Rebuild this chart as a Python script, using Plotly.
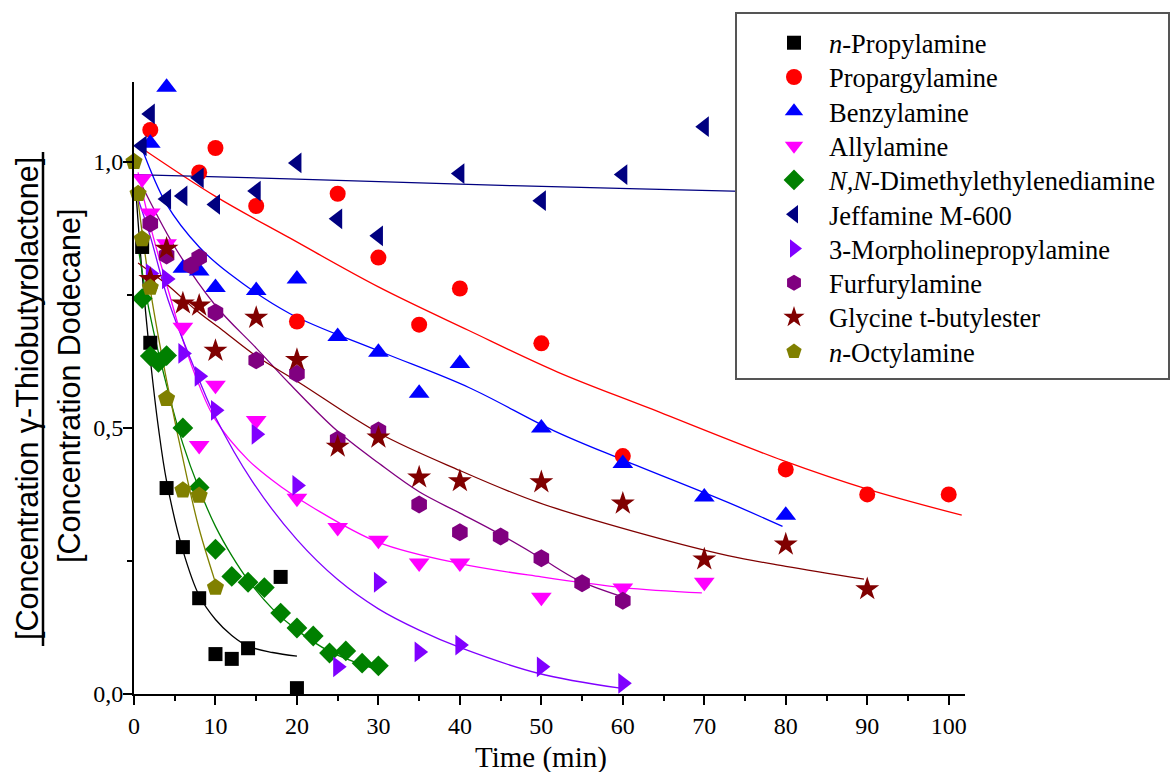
import plotly.graph_objects as go

# ---------------- data ----------------
names = ["<i>n</i>-Propylamine", "Propargylamine", "Benzylamine", "Allylamine",
         "<i>N,N</i>-Dimethylethylenediamine", "Jeffamine M-600",
         "3-Morpholinepropylamine", "Furfurylamine", "Glycine t-butylester",
         "<i>n</i>-Octylamine"]

prop_t = [1, 2, 4, 6, 8, 10, 12, 14, 18, 20]
prop_y = [0.84, 0.66, 0.387, 0.276, 0.18, 0.075, 0.066, 0.086, 0.22, 0.011]

parg_t = [2, 8, 10, 15, 20, 25, 30, 35, 40, 50, 60, 80, 90, 100]
parg_y = [1.06, 0.98, 1.026, 0.917, 0.70, 0.94, 0.82, 0.694, 0.762, 0.659, 0.447, 0.422, 0.375, 0.375]

benz_t = [2, 4, 6, 8, 10, 15, 20, 25, 30, 35, 40, 50, 60, 70, 80]
benz_y = [1.035, 1.14, 0.80, 0.795, 0.764, 0.758, 0.78, 0.672, 0.642, 0.565, 0.621, 0.50, 0.433, 0.37, 0.336]

ally_t = [1, 2, 4, 6, 8, 10, 15, 20, 25, 30, 35, 40, 50, 60, 70]
ally_y = [0.968, 0.904, 0.846, 0.689, 0.467, 0.58, 0.514, 0.368, 0.313, 0.289, 0.246, 0.246, 0.182, 0.199, 0.21]

dmed_t = [1, 2, 3, 4, 6, 8, 10, 12, 14, 16, 18, 20, 22, 24, 26, 28, 30]
dmed_y = [0.743, 0.635, 0.623, 0.636, 0.50, 0.388, 0.272, 0.221, 0.21, 0.20, 0.152, 0.124, 0.109, 0.077, 0.081, 0.058, 0.053]

jeff_t = [1, 2, 4, 6, 8, 10, 15, 20, 25, 30, 40, 50, 60, 70]
jeff_y = [1.03, 1.09, 0.93, 0.936, 0.97, 0.92, 0.945, 0.998, 0.893, 0.861, 0.978, 0.927, 0.976, 1.066]

morp_t = [2, 4, 6, 8, 10, 15, 20, 25, 30, 35, 40, 50, 60]
morp_y = [0.79, 0.78, 0.64, 0.597, 0.533, 0.488, 0.392, 0.051, 0.21, 0.079, 0.092, 0.051, 0.02]

furf_t = [2, 4, 7, 8, 10, 15, 20, 25, 30, 35, 40, 45, 50, 55, 60]
furf_y = [0.884, 0.824, 0.805, 0.82, 0.717, 0.627, 0.602, 0.478, 0.495, 0.356, 0.304, 0.296, 0.255, 0.208, 0.175]

glyc_t = [2, 4, 6, 8, 10, 15, 20, 25, 30, 35, 40, 50, 60, 70, 80, 90]
glyc_y = [0.78, 0.837, 0.734, 0.73, 0.645, 0.707, 0.628, 0.465, 0.482, 0.407, 0.40, 0.398, 0.358, 0.253, 0.281, 0.197]

octy_t = [0, 0.5, 1, 2, 4, 6, 8, 10]
octy_y = [1.0, 0.94, 0.855, 0.764, 0.555, 0.383, 0.373, 0.20]

# fitted curves
fit_prop_t = [0.3, 1, 2, 3, 4, 6, 8, 10, 12, 14, 17, 20]
fit_prop_y = [0.93, 0.79, 0.63, 0.50, 0.40, 0.27, 0.185, 0.14, 0.11, 0.09, 0.078, 0.071]
fit_parg_t = [1, 10, 19.1, 30, 41.1, 52, 63.1, 79.6, 90, 101.6]
fit_parg_y = [1.025, 0.935, 0.857, 0.765, 0.683, 0.605, 0.538, 0.439, 0.385, 0.336]
fit_benz_t = [1, 4, 8, 11.7, 19.1, 30, 41.1, 51.5, 60, 72.9, 79.6]
fit_benz_y = [1.024, 0.92, 0.84, 0.79, 0.715, 0.645, 0.576, 0.495, 0.44, 0.36, 0.315]
fit_ally_t = [0.5, 2, 4, 6, 8, 10, 14, 18, 22, 30, 40, 50, 60, 69.7]
fit_ally_y = [0.98, 0.88, 0.77, 0.665, 0.58, 0.515, 0.44, 0.39, 0.35, 0.285, 0.245, 0.22, 0.20, 0.19]
fit_dmed_t = [0.5, 2, 4, 6, 8, 10, 12, 14, 17, 20, 24, 28, 30]
fit_dmed_y = [0.84, 0.71, 0.58, 0.47, 0.385, 0.315, 0.26, 0.214, 0.16, 0.12, 0.08, 0.055, 0.045]
fit_jeff_t = [0, 19, 40, 62, 102]
fit_jeff_y = [0.976, 0.968, 0.958, 0.949, 0.935]
fit_morp_t = [0.5, 2, 4.2, 8, 10, 14.5, 20, 25, 30, 35, 39.9, 49.6, 59.7]
fit_morp_y = [0.93, 0.86, 0.74, 0.59, 0.52, 0.40, 0.29, 0.215, 0.16, 0.12, 0.088, 0.039, 0.011]
fit_furf_t = [0.5, 5, 10, 15, 19.1, 24.9, 30.1, 35, 40, 44.7, 50, 54.5, 59.7]
fit_furf_y = [0.97, 0.84, 0.73, 0.65, 0.583, 0.495, 0.433, 0.38, 0.34, 0.302, 0.255, 0.214, 0.184]
fit_glyc_t = [0.5, 4, 7.7, 10.9, 15, 20.3, 30.1, 40, 49.6, 63.1, 72.9, 80, 89.6]
fit_glyc_y = [0.81, 0.77, 0.72, 0.683, 0.635, 0.585, 0.49, 0.42, 0.36, 0.298, 0.26, 0.24, 0.216]
fit_octy_t = [0.3, 2, 4, 6.6, 8, 9.9]
fit_octy_y = [0.95, 0.76, 0.59, 0.40, 0.31, 0.214]

series = [
    (prop_t, prop_y, fit_prop_t, fit_prop_y, "#000000", "square", 14),
    (parg_t, parg_y, fit_parg_t, fit_parg_y, "#FF0000", "circle", 16),
    (benz_t, benz_y, fit_benz_t, fit_benz_y, "#0000FF", "triangle-up", 18),
    (ally_t, ally_y, fit_ally_t, fit_ally_y, "#FF00FF", "triangle-down", 18),
    (dmed_t, dmed_y, fit_dmed_t, fit_dmed_y, "#008000", "diamond", 16),
    (jeff_t, jeff_y, fit_jeff_t, fit_jeff_y, "#000080", "triangle-left", 18),
    (morp_t, morp_y, fit_morp_t, fit_morp_y, "#8000FF", "triangle-right", 18),
    (furf_t, furf_y, fit_furf_t, fit_furf_y, "#800080", "hexagon", 18),
    (glyc_t, glyc_y, fit_glyc_t, fit_glyc_y, "#800000", "star", 18),
    (octy_t, octy_y, fit_octy_t, fit_octy_y, "#808000", "pentagon", 18),
]

W, H = 1170, 772
L, R, T, B = 134, 205, 82, 78
pw, ph = W - L - R, H - T - B

def px(xp):
    return (xp - L) / pw

def py(yp):
    return (H - B - yp) / ph

serif = "Liberation Serif"

fig = go.Figure()
for (t, y, ft, fy, col, sym, sz), nm in zip(series, names):
    fig.add_trace(go.Scatter(x=ft, y=fy, mode="lines", line=dict(color=col, width=1.3, shape="spline"),
                             showlegend=False, hoverinfo="skip"))

legends = {}
for i, ((t, y, ft, fy, col, sym, sz), nm) in enumerate(zip(series, names)):
    key = "legend" if i == 0 else f"legend{i + 1}"
    fig.add_trace(go.Scatter(x=t, y=y, mode="markers", name=nm, cliponaxis=False, legend=key,
                             marker=dict(symbol=sym, size=sz, color=col, line=dict(width=0))))
    legends[key] = dict(x=px(759), y=py(43 + 34.3 * i), xanchor="left", yanchor="middle",
                        bgcolor="rgba(0,0,0,0)", borderwidth=0, itemwidth=60,
                        font=dict(family=serif, size=26.5, color="black"),
                        itemsizing="trace")

fig.update_layout(
    width=W, height=H,
    margin=dict(l=L, r=R, t=T, b=B, autoexpand=False),
    paper_bgcolor="white", plot_bgcolor="white",
    separators=", ",
    font=dict(family=serif, size=23, color="black"),
    showlegend=True,
    xaxis=dict(range=[0, 102], showgrid=False, zeroline=False, showline=True,
               linecolor="black", linewidth=2, ticks="outside", ticklen=9, tickwidth=2,
               tickcolor="black", dtick=10, tick0=0,
               minor=dict(ticks="outside", ticklen=5, tickwidth=2, dtick=5, tickcolor="black"),
               tickfont=dict(family=serif, size=24)),
    yaxis=dict(range=[0, 1.15], showgrid=False, zeroline=False, showline=True,
               linecolor="black", linewidth=2, ticks="outside", ticklen=9, tickwidth=2,
               tickcolor="black", dtick=0.5, tick0=0, tickformat=".1f", ticklabelstandoff=-5,
               minor=dict(ticks="outside", ticklen=5, tickwidth=2, dtick=0.25, tickcolor="black"),
               tickfont=dict(family=serif, size=24)),
    shapes=[
        dict(type="rect", xref="paper", yref="paper", x0=px(736), x1=px(1169), y0=py(379), y1=py(13),
             line=dict(color="#555555", width=2), fillcolor="white", layer="above"),
        dict(type="line", xref="paper", yref="paper", x0=px(43), x1=px(43), y0=py(646), y1=py(152),
             line=dict(color="black", width=2.5)),
    ],
    annotations=[
        dict(text="Time (min)", xref="x", yref="paper", x=50, y=py(757), xanchor="center", yanchor="middle",
             showarrow=False, font=dict(family=serif, size=29)),
        dict(text="[Concentration \u03b3-Thiobutyrolactone]", xref="paper", yref="paper", x=px(28), y=py(399),
             xanchor="center", yanchor="middle", textangle=-90, showarrow=False,
             font=dict(family="Liberation Sans", size=30.5)),
        dict(text="[Concentration Dodecane]", xref="paper", yref="paper", x=px(69), y=py(386),
             xanchor="center", yanchor="middle", textangle=-90, showarrow=False,
             font=dict(family="Liberation Sans", size=30.5)),
    ],
)
fig.update_layout(**legends)

fig.write_html("out.html")
